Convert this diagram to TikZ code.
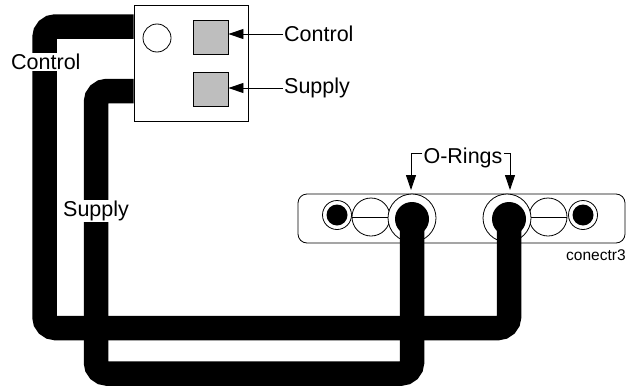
\documentclass[tikz,border=0pt]{standalone}
\usepackage{fontspec}
\setmainfont{Liberation Sans}
\usetikzlibrary{arrows.meta}
\definecolor{portgray}{RGB}{190,190,190}
\tikzset{
  tube/.style={line width=24.5pt,rounded corners=11pt,black},
  ring/.style={draw,circle,fill=white,inner sep=0pt,line width=0.8pt},
  blob/.style={circle,fill=black,inner sep=0pt},
  port/.style={draw,fill=portgray,inner sep=0pt,minimum width=35pt,minimum height=34pt,line width=0.9pt},
  pointer/.style={-{Triangle[length=15pt,width=10pt]},line width=0.9pt},
  lbl/.style={font=\fontsize{21.5}{23}\selectfont,inner sep=1pt},
}
\begin{document}
\begin{tikzpicture}[x=1pt,y=-1pt]
\useasboundingbox (0,0) rectangle (631,388);

% connector plate
\draw[line width=0.8pt,rounded corners=9pt] (298,194) rectangle (625,243);
\node[anchor=west,font=\fontsize{15.5}{16}\selectfont,inner sep=0pt] (platename) at (566,255) {conectr3};

\node[ring,minimum size=29pt] (screwl) at (337,215) {};
\node[blob,minimum size=21pt] (screwlhole) at (337,215) {};
\node[ring,minimum size=38pt] (slotl) at (371,217) {};
\draw[line width=0.8pt] (slotl.west) -- (slotl.east);
\node[ring,minimum size=48pt] (oringl) at (412,218) {};

\node[ring,minimum size=29pt] (screwr) at (583,215) {};
\node[blob,minimum size=21pt] (screwrhole) at (583,215) {};
\node[ring,minimum size=38pt] (slotr) at (548,217) {};
\draw[line width=0.8pt] (slotr.west) -- (slotr.east);
\node[ring,minimum size=48pt] (oringr) at (507,218) {};

% valve block
\node[draw,fill=white,line width=0.9pt,inner sep=0pt,minimum width=114pt,minimum height=116pt] (block) at (191,63) {};
\node[ring,minimum size=28pt] (pilot) at (157,38) {};
\node[port] (ctrlport) at (210.5,37) {};
\node[port] (supplyport) at (210.5,89.5) {};

% hoses
\coordinate (ctrlstart) at (block.west |- 0,26.5);
\coordinate (supplystart) at (block.west |- 0,91);
\node[blob,minimum size=34pt] (blobl) at (412,219) {};
\node[blob,minimum size=34pt] (blobr) at (509,219) {};
\draw[tube] (ctrlstart) -- (44.5,26.5) -- (44.5,328) -- (509,328) -- (blobr.center);
\draw[tube] (supplystart) -- (96,91) -- (96,373.5) -- (412,373.5) -- (blobl.center);

% labels
\node[lbl,fill=white,anchor=west] (ctrlhose) at (10,62) {Control};
\node[lbl,fill=white,anchor=west] (supplyhose) at (62,211) {Supply};
\node[lbl,anchor=west] (ctrllabel) at (283,34) {Control};
\node[lbl,anchor=west] (supplylabel) at (283,88) {Supply};
\draw[pointer] (ctrllabel.west) -- (ctrlport.east |- ctrllabel.west);
\draw[pointer] (supplylabel.west) -- (supplyport.east |- supplylabel.west);

\node[lbl] (ringlabel) at (463,158) {O-Rings};
\coordinate (tipl) at (411,190);
\coordinate (tipr) at (510,190);
\draw[pointer] (ringlabel.west |- 0,153) -| (tipl);
\draw[pointer] (ringlabel.east |- 0,153) -| (tipr);
\end{tikzpicture}
\end{document}
